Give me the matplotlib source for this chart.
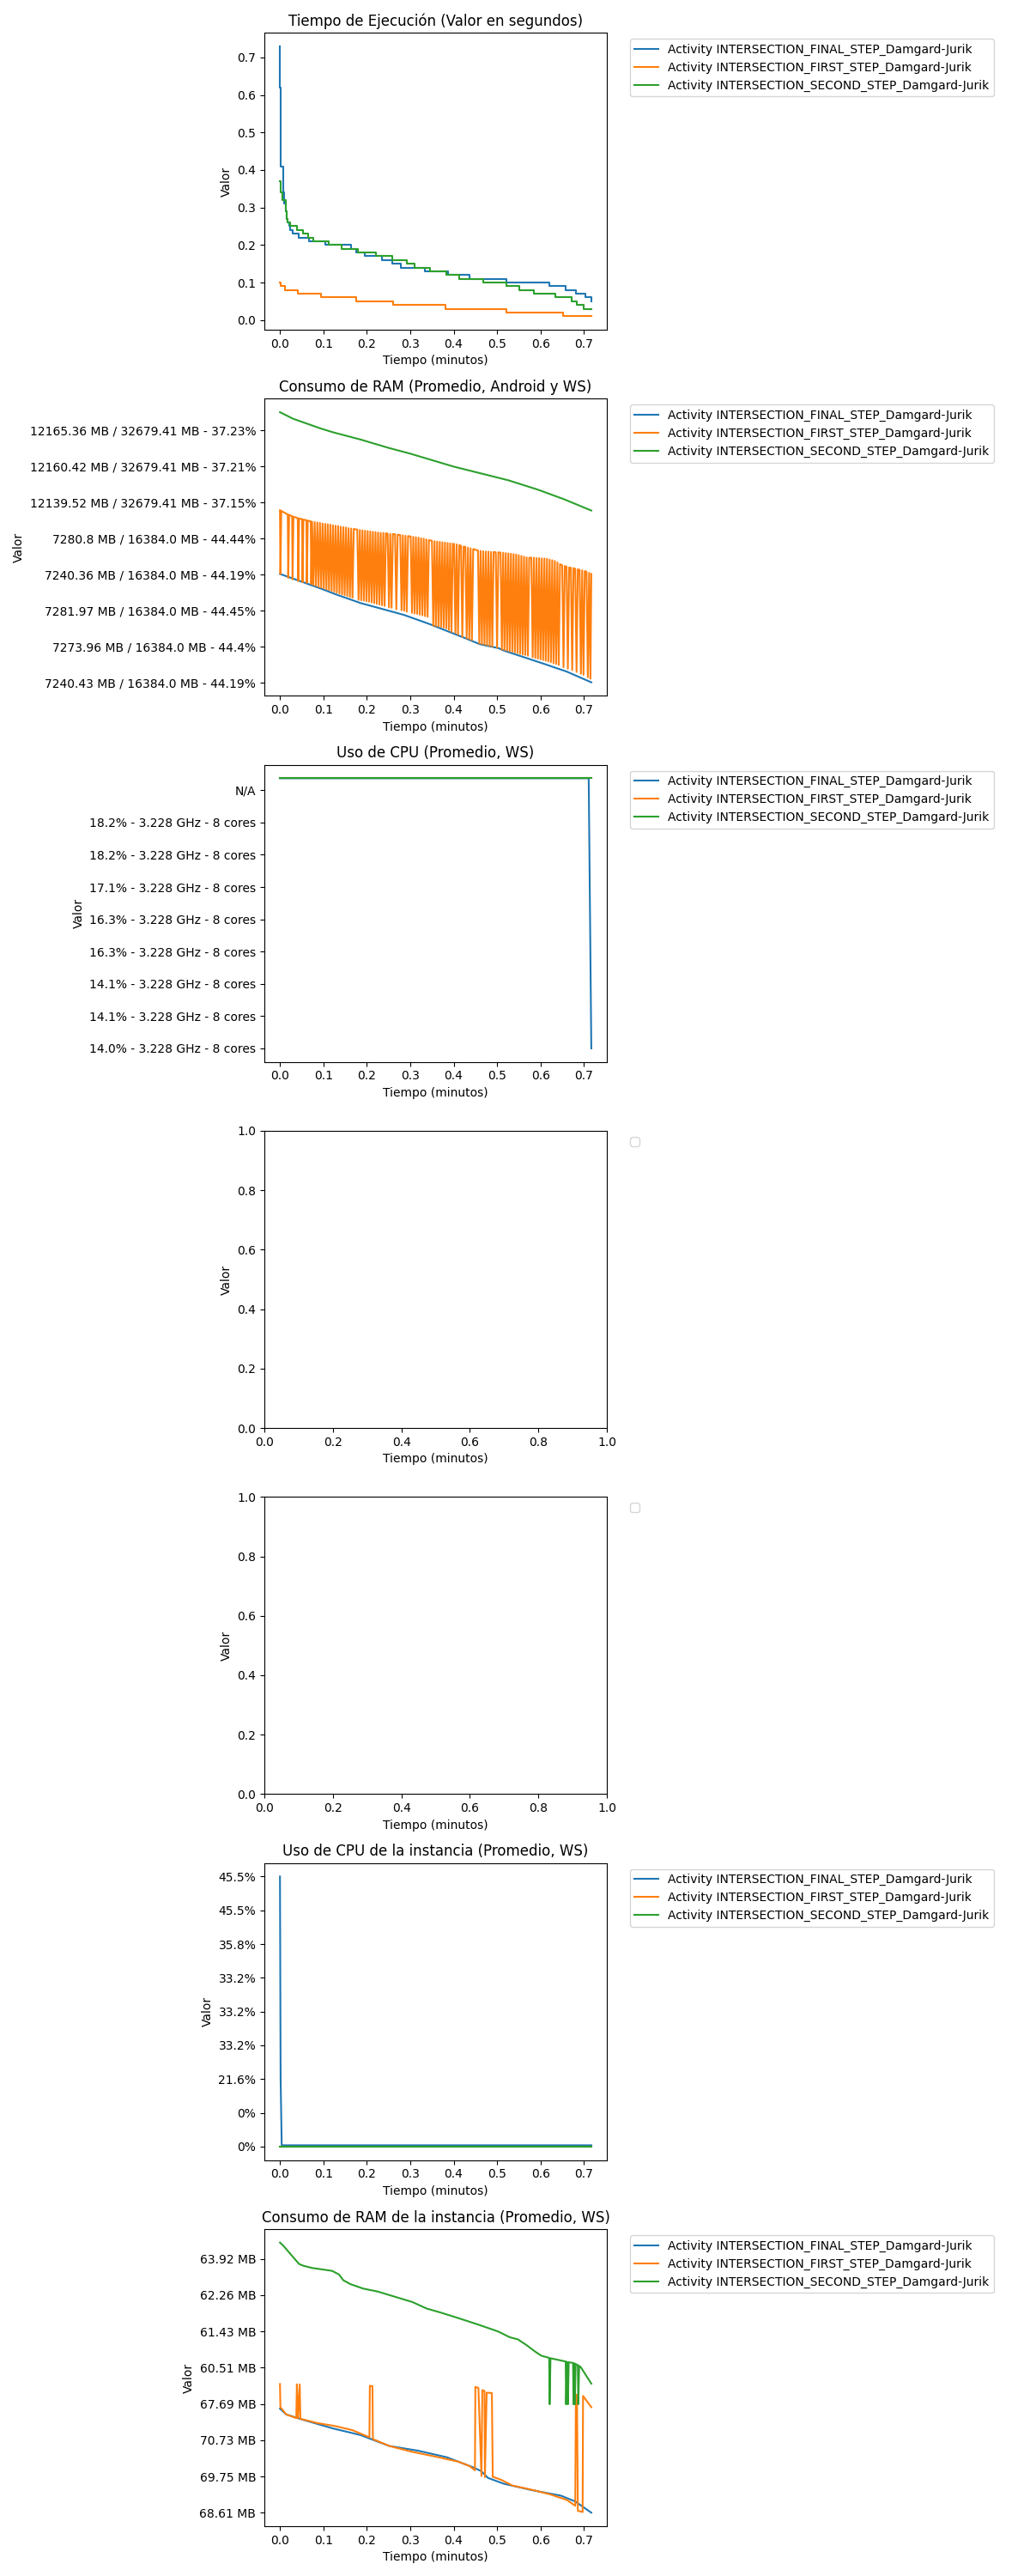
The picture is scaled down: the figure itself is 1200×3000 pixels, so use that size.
import matplotlib
matplotlib.use("Agg")
import matplotlib.pyplot as plt

# Nombres de las series (leyenda)
actividades = [
    "Activity INTERSECTION_FINAL_STEP_Damgard-Jurik",
    "Activity INTERSECTION_FIRST_STEP_Damgard-Jurik",
    "Activity INTERSECTION_SECOND_STEP_Damgard-Jurik",
]
colores = ["tab:blue", "tab:orange", "tab:green"]

# --- 1) Tiempo de ejecucion (escalones) ---
t1_final = [0, 0.0005, 0.0026, 0.0066, 0.010, 0.0125, 0.016, 0.018, 0.021, 0.024, 0.029,
            0.044, 0.066, 0.1035, 0.163, 0.176, 0.196, 0.235, 0.258, 0.278, 0.334, 0.387,
            0.436, 0.522, 0.621, 0.657, 0.681, 0.703, 0.717]
v1_final = [0.73, 0.62, 0.41, 0.34, 0.31, 0.29, 0.27, 0.26, 0.25, 0.24, 0.23,
            0.22, 0.21, 0.20, 0.19, 0.18, 0.17, 0.16, 0.15, 0.14, 0.13, 0.12,
            0.11, 0.10, 0.09, 0.08, 0.07, 0.06, 0.05]
t1_first = [0, 0.001, 0.011, 0.042, 0.094, 0.176, 0.26, 0.381, 0.522, 0.652, 0.717]
v1_first = [0.10, 0.09, 0.08, 0.07, 0.06, 0.05, 0.04, 0.03, 0.02, 0.01, 0.01]
t1_second = [0, 0.0015, 0.006, 0.0125, 0.016, 0.018, 0.024, 0.040, 0.053, 0.064, 0.077,
             0.113, 0.141, 0.179, 0.222, 0.258, 0.292, 0.31, 0.345, 0.384, 0.413, 0.469,
             0.522, 0.552, 0.585, 0.634, 0.671, 0.684, 0.700, 0.717]
v1_second = [0.37, 0.34, 0.32, 0.29, 0.27, 0.26, 0.25, 0.24, 0.23, 0.22, 0.21,
             0.20, 0.19, 0.18, 0.17, 0.16, 0.15, 0.14, 0.13, 0.12, 0.11, 0.10,
             0.09, 0.08, 0.07, 0.06, 0.05, 0.04, 0.03, 0.03]

# --- 2) Consumo de RAM (categorias, en posicion de tick) ---
ram_labels = [
    "7240.43 MB / 16384.0 MB - 44.19%",
    "7273.96 MB / 16384.0 MB - 44.4%",
    "7281.97 MB / 16384.0 MB - 44.45%",
    "7240.36 MB / 16384.0 MB - 44.19%",
    "7280.8 MB / 16384.0 MB - 44.44%",
    "12139.52 MB / 32679.41 MB - 37.15%",
    "12160.42 MB / 32679.41 MB - 37.21%",
    "12165.36 MB / 32679.41 MB - 37.23%",
]
t2_final = [0, 0.095, 0.127, 0.186, 0.25, 0.286, 0.344, 0.428, 0.46, 0.503, 0.516, 0.609, 0.66, 0.717]
v2_final = [3.01, 2.60, 2.45, 2.20, 1.99, 1.87, 1.62, 1.22, 1.06, 0.95, 0.88, 0.51, 0.30, 0.0]
t2_second = [0, 0.03, 0.091, 0.12, 0.186, 0.25, 0.30, 0.40, 0.473, 0.526, 0.594, 0.655, 0.717]
v2_second = [7.50, 7.32, 7.06, 6.95, 6.74, 6.51, 6.35, 5.99, 5.77, 5.61, 5.35, 5.08, 4.77]
t2_first = [
    0.000, 0.001, 0.003, 0.018, 0.019, 0.021, 0.028, 0.029, 0.031, 0.041, 0.042, 0.044,
    0.051, 0.052, 0.054, 0.061, 0.062, 0.064, 0.071, 0.072, 0.074,
    0.077, 0.080, 0.083, 0.086, 0.089, 0.092, 0.095, 0.098, 0.101, 0.104, 0.107, 0.110,
    0.113, 0.116, 0.119, 0.122, 0.125, 0.128, 0.131, 0.134, 0.137, 0.140, 0.143, 0.146,
    0.149, 0.152, 0.155, 0.158, 0.161, 0.164, 0.167, 0.170, 0.178,
    0.181, 0.184, 0.187, 0.190, 0.193, 0.196, 0.199, 0.202, 0.205, 0.208, 0.211, 0.214,
    0.217, 0.220, 0.223, 0.226, 0.229, 0.232, 0.235, 0.238, 0.241, 0.244, 0.248,
    0.251, 0.254, 0.257, 0.260, 0.265, 0.268, 0.271, 0.277, 0.280, 0.283, 0.286, 0.289,
    0.292, 0.295, 0.301,
    0.304, 0.307, 0.310, 0.313, 0.316, 0.319, 0.322, 0.325, 0.328, 0.331, 0.334, 0.337,
    0.340, 0.343, 0.350,
    0.353, 0.356, 0.359, 0.362, 0.365, 0.368, 0.371, 0.374, 0.377, 0.380, 0.383, 0.386,
    0.389, 0.392, 0.395, 0.398, 0.401, 0.404, 0.407, 0.410, 0.413, 0.417, 0.420, 0.423,
    0.427, 0.430, 0.433, 0.436, 0.439, 0.442, 0.445, 0.456,
    0.459, 0.462, 0.465, 0.468, 0.471, 0.474, 0.477, 0.480, 0.483, 0.486, 0.489, 0.492,
    0.497, 0.500, 0.503, 0.508,
    0.511, 0.514, 0.517, 0.520, 0.523, 0.526, 0.529, 0.532, 0.535, 0.538, 0.541, 0.544,
    0.547, 0.550, 0.553, 0.556, 0.559, 0.562, 0.565, 0.568, 0.571, 0.574, 0.579, 0.582,
    0.585,
    0.588, 0.591, 0.594, 0.597, 0.600, 0.603, 0.606, 0.609, 0.612, 0.615, 0.618, 0.621,
    0.624, 0.627, 0.630, 0.633, 0.636, 0.639, 0.642, 0.645, 0.650,
    0.653, 0.656, 0.660, 0.663, 0.666, 0.670, 0.673, 0.676, 0.680, 0.683, 0.686, 0.690,
    0.693, 0.696, 0.699, 0.702, 0.706, 0.709, 0.712, 0.715, 0.717,
]
v2_first = [
    4.78, 3.01, 4.76, 4.66, 2.90, 4.65, 4.61, 2.86, 4.60, 4.56, 2.81, 4.55,
    4.53, 2.78, 4.52, 4.50, 2.76, 4.49, 4.47, 2.73, 4.46,
    2.70, 4.45, 2.68, 4.44, 2.65, 4.43, 2.63, 4.41, 2.61, 4.40, 2.58, 4.39,
    2.56, 4.38, 2.54, 4.36, 2.51, 4.35, 2.49, 4.34, 2.47, 4.32, 2.44, 4.31,
    2.42, 4.30, 2.40, 4.28, 2.37, 4.27, 2.35, 4.26, 4.24,
    2.29, 4.23, 2.28, 4.22, 2.27, 4.21, 2.25, 4.20, 2.24, 4.19, 2.22, 4.18,
    2.20, 4.17, 2.18, 4.16, 2.16, 4.15, 2.14, 4.15, 2.12, 4.14, 4.13,
    2.08, 4.12, 2.07, 4.12, 4.11, 2.03, 4.10, 4.09, 2.00, 4.08, 1.99, 4.07,
    1.96, 4.06, 4.05,
    1.93, 4.04, 1.91, 4.03, 1.90, 4.02, 1.88, 4.00, 1.86, 3.99, 1.84, 3.97,
    1.82, 3.95, 3.93,
    1.57, 3.92, 1.56, 3.91, 1.55, 3.90, 1.54, 3.89, 1.52, 3.88, 1.50, 3.87,
    1.45, 3.86, 1.40, 3.85, 3.84, 1.37, 3.83, 1.33, 3.81, 3.79, 1.26, 3.77,
    3.76, 1.22, 3.74, 1.20, 3.72, 1.17, 3.70, 3.66,
    1.08, 3.65, 1.06, 3.64, 1.05, 3.63, 1.03, 3.63, 1.01, 3.62, 0.99, 3.62,
    3.61, 0.96, 3.61, 3.60,
    0.91, 3.60, 0.89, 3.59, 0.88, 3.58, 0.86, 3.57, 0.85, 3.56, 0.83, 3.55,
    0.81, 3.53, 0.79, 3.51, 0.77, 3.49, 0.76, 3.47, 0.74, 3.46, 3.46, 0.70,
    3.46,
    0.68, 3.45, 0.66, 3.45, 0.64, 3.44, 0.62, 3.44, 0.60, 3.43, 0.58, 3.41,
    0.56, 3.39, 0.53, 3.37, 0.51, 3.33, 0.48, 3.28, 3.25,
    0.42, 3.23, 3.21, 0.38, 3.19, 3.18, 0.34, 3.17, 3.15, 0.29, 3.14, 3.12,
    0.24, 3.11, 0.21, 3.09, 3.07, 0.14, 3.04, 0.10, 3.01,
]

# --- 3) Uso de CPU (categorias) ---
cpu_labels = [
    "14.0% - 3.228 GHz - 8 cores",
    "14.1% - 3.228 GHz - 8 cores",
    "14.1% - 3.228 GHz - 8 cores",
    "16.3% - 3.228 GHz - 8 cores",
    "16.3% - 3.228 GHz - 8 cores",
    "17.1% - 3.228 GHz - 8 cores",
    "18.2% - 3.228 GHz - 8 cores",
    "18.2% - 3.228 GHz - 8 cores",
    "N/A",
]
t3_final = [0, 0.711, 0.717]
v3_final = [8.37, 8.37, 0.0]
t3_first = [0, 0.717]
v3_first = [8.37, 8.37]
t3_second = [0, 0.717]
v3_second = [8.37, 8.37]

# --- 6) Uso de CPU de la instancia (categorias) ---
cpu_inst_labels = ["0%", "0%", "21.6%", "33.2%", "33.2%", "33.2%", "35.8%", "45.5%", "45.5%"]
t6_final = [0, 0.0015, 0.004, 0.717]
v6_final = [8.0, 2.0, 0.04, 0.04]
t6_first = [0, 0.717]
v6_first = [0.0, 0.0]
t6_second = [0, 0.717]
v6_second = [0.0, 0.0]

# --- 7) Consumo de RAM de la instancia (categorias) ---
ram_inst_labels = ["68.61 MB", "69.75 MB", "70.73 MB", "67.69 MB",
                   "60.51 MB", "61.43 MB", "62.26 MB", "63.92 MB"]
t7_final = [0, 0.0145, 0.054, 0.120, 0.186, 0.212, 0.252, 0.318, 0.384, 0.443, 0.463,
            0.479, 0.515, 0.581, 0.647, 0.680, 0.717]
v7_final = [2.87, 2.71, 2.56, 2.33, 2.14, 2.02, 1.84, 1.71, 1.53, 1.26, 1.15,
            0.96, 0.80, 0.62, 0.47, 0.31, 0.0]
t7_first = [0.000, 0.001, 0.0145, 0.0376, 0.039, 0.0415, 0.0455, 0.047, 0.087, 0.127,
            0.166, 0.206, 0.207, 0.213, 0.214, 0.252, 0.304, 0.357, 0.410, 0.436, 0.449,
            0.450, 0.457, 0.464, 0.466, 0.471, 0.472, 0.476, 0.488, 0.490, 0.509, 0.535,
            0.581, 0.621, 0.661, 0.680, 0.6815, 0.684, 0.686, 0.697, 0.698, 0.717]
v7_first = [3.55, 2.91, 2.71, 2.61, 3.54, 2.60, 3.54, 2.59, 2.47, 2.39,
            2.28, 2.08, 3.50, 3.49, 2.03, 1.84, 1.68, 1.55, 1.41, 1.29, 1.17,
            3.47, 3.44, 1.01, 3.38, 3.36, 0.98, 3.31, 3.30, 0.99, 0.91, 0.75,
            0.63, 0.51, 0.35, 0.19, 3.26, 3.24, 0.05, 0.02, 3.22, 2.91]
t7_second = [0, 0.008, 0.028, 0.044, 0.054, 0.074, 0.12, 0.136, 0.146, 0.163, 0.192,
             0.225, 0.258, 0.305, 0.338, 0.370, 0.41, 0.456, 0.502, 0.529, 0.548, 0.568,
             0.588, 0.602, 0.620, 0.621, 0.623, 0.658, 0.659, 0.661, 0.663, 0.665, 0.675,
             0.676, 0.678, 0.679, 0.681, 0.686, 0.687, 0.689, 0.693, 0.717]
v7_second = [7.45, 7.36, 7.08, 6.86, 6.81, 6.75, 6.67, 6.57, 6.41, 6.30, 6.18,
             6.10, 5.98, 5.81, 5.63, 5.52, 5.37, 5.19, 5.00, 4.84, 4.78, 4.62,
             4.44, 4.33, 4.27, 2.99, 4.26, 4.17, 2.99, 4.16, 2.99, 4.15, 4.13,
             2.99, 4.12, 2.99, 4.10, 4.07, 2.99, 4.05, 4.01, 3.56]

fig, axes = plt.subplots(7, 1, figsize=(12, 30))
fig.subplots_adjust(left=0.2567, right=0.5892, top=0.98733, bottom=0.01933, hspace=0.232)


def poner_leyenda(ax):
    ax.legend(bbox_to_anchor=(1.05, 1), loc="upper left")


def ejes(ax, titulo=None):
    if titulo:
        ax.set_title(titulo)
    ax.set_xlabel("Tiempo (minutos)")
    ax.set_ylabel("Valor")


# Grafica 1
ax = axes[0]
series1 = [(t1_final, v1_final), (t1_first, v1_first), (t1_second, v1_second)]
for (t, v), nombre, c in zip(series1, actividades, colores):
    ax.plot(t, v, drawstyle="steps-post", color=c, label=nombre)
ejes(ax, "Tiempo de Ejecución (Valor en segundos)")
poner_leyenda(ax)

# Grafica 2
ax = axes[1]
series2 = [(t2_final, v2_final), (t2_first, v2_first), (t2_second, v2_second)]
for (t, v), nombre, c in zip(series2, actividades, colores):
    ax.plot(t, v, color=c, label=nombre)
ax.set_yticks(range(len(ram_labels)), ram_labels)
ejes(ax, "Consumo de RAM (Promedio, Android y WS)")
poner_leyenda(ax)

# Grafica 3
ax = axes[2]
series3 = [(t3_final, v3_final), (t3_first, v3_first), (t3_second, v3_second)]
for (t, v), nombre, c in zip(series3, actividades, colores):
    ax.plot(t, v, color=c, label=nombre)
ax.set_yticks(range(len(cpu_labels)), cpu_labels)
ejes(ax, "Uso de CPU (Promedio, WS)")
poner_leyenda(ax)

# Graficas 4 y 5 (sin datos)
for ax in axes[3:5]:
    ejes(ax)
    ax.legend(handles=[], bbox_to_anchor=(1.05, 1), loc="upper left")

# Grafica 6
ax = axes[5]
series6 = [(t6_final, v6_final), (t6_first, v6_first), (t6_second, v6_second)]
for (t, v), nombre, c in zip(series6, actividades, colores):
    ax.plot(t, v, color=c, label=nombre)
ax.set_yticks(range(len(cpu_inst_labels)), cpu_inst_labels)
ejes(ax, "Uso de CPU de la instancia (Promedio, WS)")
poner_leyenda(ax)

# Grafica 7
ax = axes[6]
series7 = [(t7_final, v7_final), (t7_first, v7_first), (t7_second, v7_second)]
for (t, v), nombre, c in zip(series7, actividades, colores):
    ax.plot(t, v, color=c, label=nombre)
ax.set_yticks(range(len(ram_inst_labels)), ram_inst_labels)
ejes(ax, "Consumo de RAM de la instancia (Promedio, WS)")
poner_leyenda(ax)

fig.savefig("out.png", dpi=100)
